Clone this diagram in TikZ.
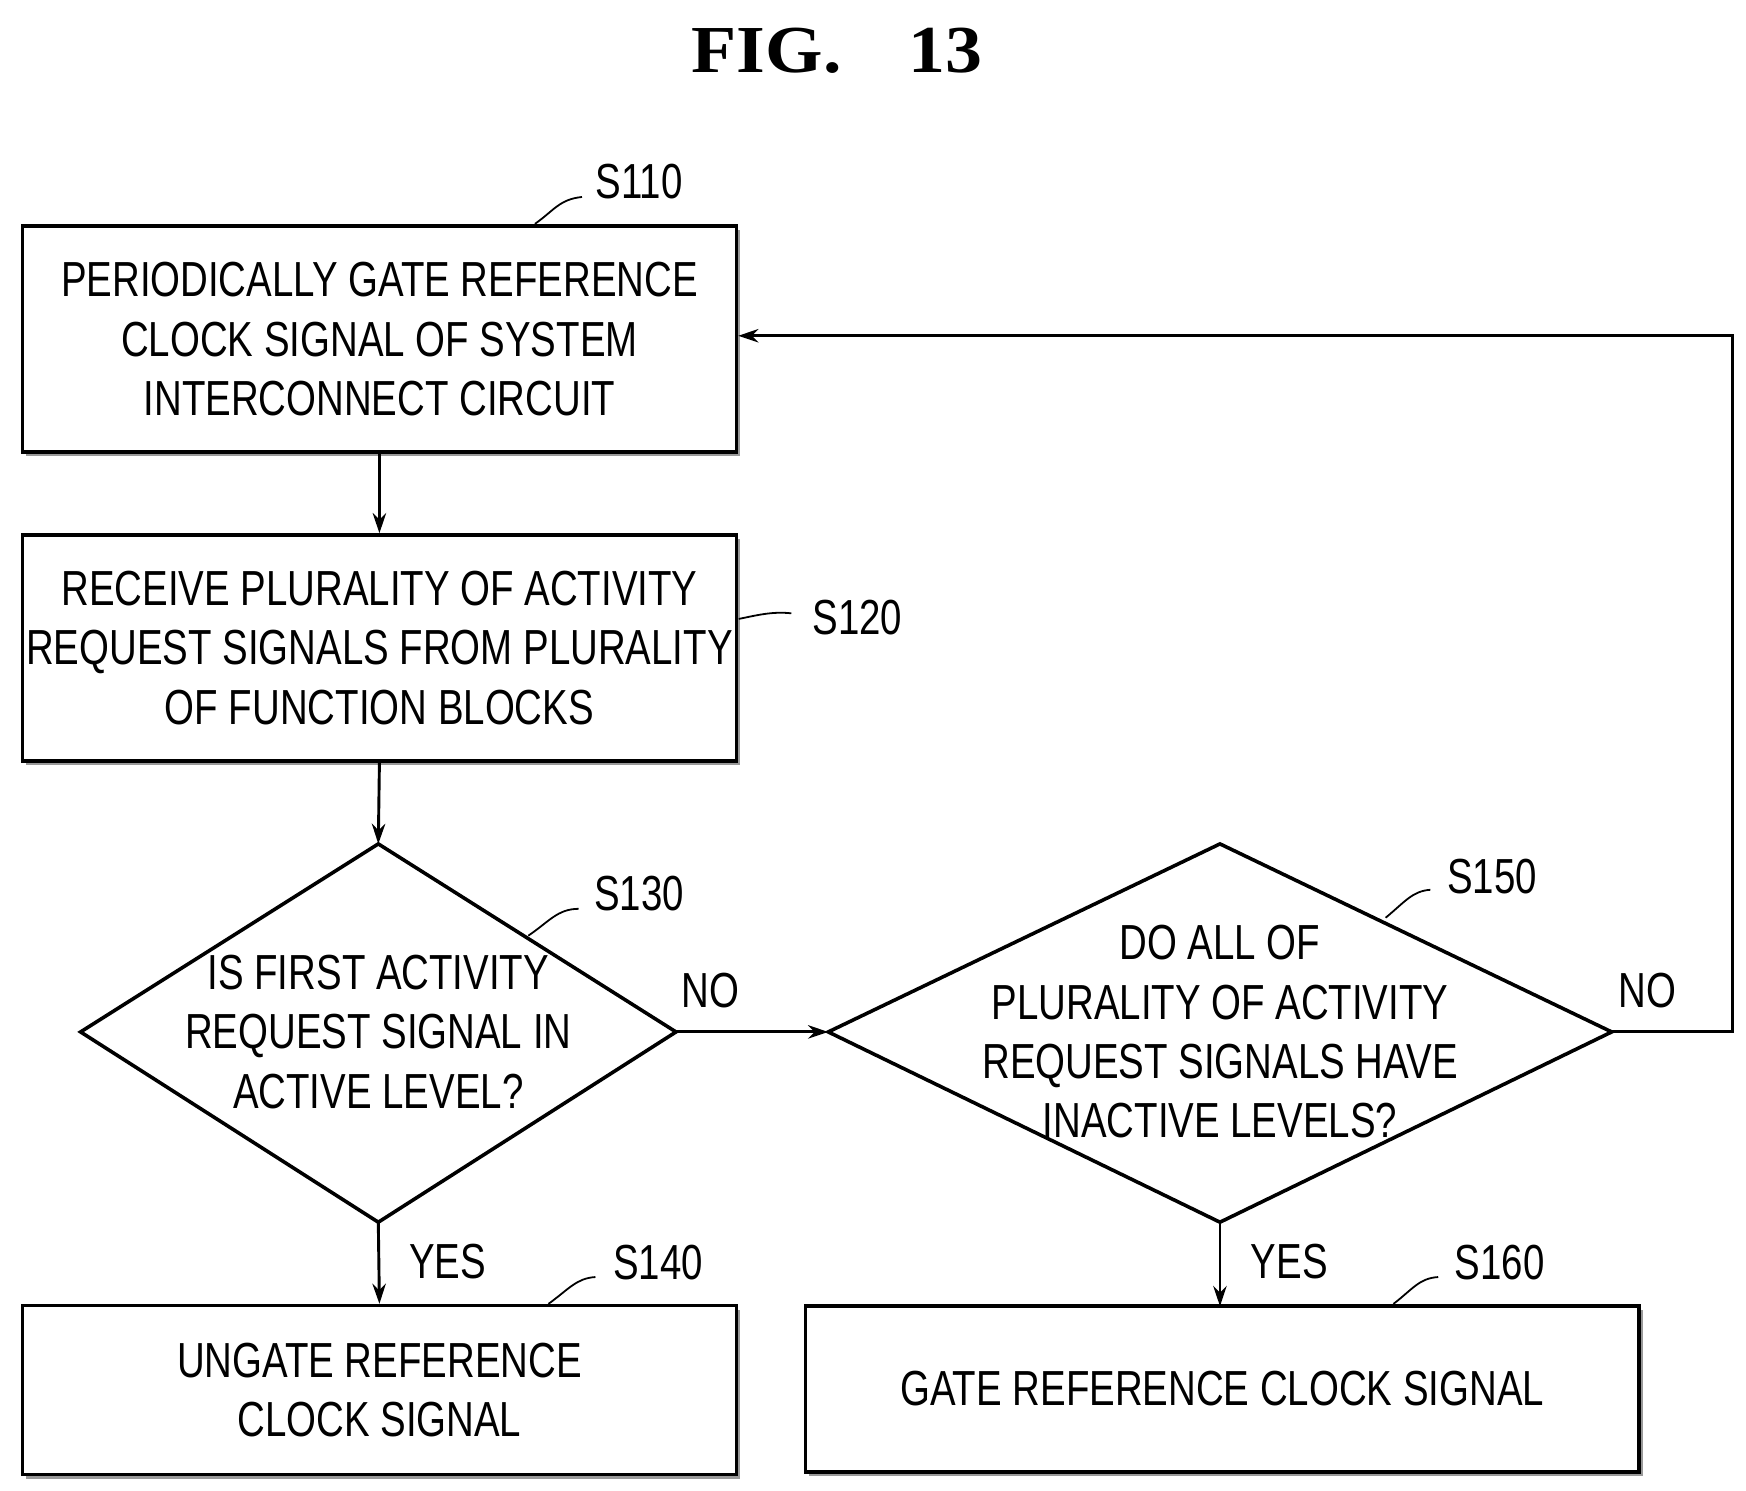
\documentclass[tikz,border=0pt]{standalone}
\usepackage{fontspec}
\setmainfont{Liberation Sans}[FakeStretch=0.78]
\newfontfamily\titlefont{Liberation Serif}[FakeStretch=1.1]
\usetikzlibrary{shapes.geometric,shadows,arrows.meta}
\begin{document}
\begin{tikzpicture}[x=0.5pt,y=-0.5pt,
  box/.style={draw,line width=1.6pt,fill=white,drop shadow={shadow xshift=1.8pt,shadow yshift=-1.8pt,fill=gray!80,opacity=1},align=center,font=\fontsize{22}{26.5}\selectfont,inner sep=0pt},
  txt/.style={align=center,font=\fontsize{22}{26.5}\selectfont},
  lbl/.style={font=\fontsize{22}{26}\selectfont},
  arr/.style={line width=1.3pt,-{Stealth[length=9pt,width=6pt]}},
  lead/.style={line width=0.8pt}]
\useasboundingbox (0,0) rectangle (1560,1332);
\node[font=\titlefont\bfseries\fontsize{30}{34}\selectfont] (title) at (748,45) {FIG.\quad 13};
% boxes
\node[box,minimum width=319pt,minimum height=101pt] (b1) at (339,303) {PERIODICALLY GATE REFERENCE\\CLOCK SIGNAL OF SYSTEM\\INTERCONNECT CIRCUIT};
\node[box,minimum width=319pt,minimum height=101pt] (b2) at (339,579) {RECEIVE PLURALITY OF ACTIVITY\\REQUEST SIGNALS FROM PLURALITY\\OF FUNCTION BLOCKS};
\node[box,minimum width=319pt,minimum height=75.5pt] (b4) at (339,1242) {UNGATE REFERENCE\\CLOCK SIGNAL};
\node[box,minimum width=372.5pt,minimum height=74pt] (b6) at (1092,1241) {GATE REFERENCE CLOCK SIGNAL};
% diamonds
\coordinate (d1t) at (338,754); \coordinate (d1b) at (338,1092);
\coordinate (d1l) at (72,922); \coordinate (d1r) at (604,922);
\draw[line width=1.6pt] (d1t) -- (d1r) -- (d1b) -- (d1l) -- cycle;
\node[txt] (d1) at (338,922) {IS FIRST ACTIVITY\\REQUEST SIGNAL IN\\ACTIVE LEVEL?};
\coordinate (d2t) at (1090,754); \coordinate (d2b) at (1090,1092);
\coordinate (d2l) at (740,922); \coordinate (d2r) at (1440,922);
\draw[line width=1.6pt] (d2t) -- (d2r) -- (d2b) -- (d2l) -- cycle;
\node[txt] (d2) at (1090,922) {DO ALL OF\\PLURALITY OF ACTIVITY\\REQUEST SIGNALS HAVE\\INACTIVE LEVELS?};
% arrows
\draw[arr] (b1.south) -- (b2.north);
\draw[arr] (b2.south) -- (d1t);
\draw[arr] (d1b) -- (b4.north);
\draw[arr] (d2b) -- (1090,1167);
\draw[arr] (d1r) -- (d2l);
\coordinate (c1) at (1548,922); \coordinate (c2) at (1548,300);
\draw[arr] (d2r) -- (c1) -- (c2) -- (b1.east |- c2);
\node[lbl] (yes1) at (400,1127) {YES};
\node[lbl] (yes2) at (1152,1127) {YES};
\node[lbl] (no1) at (635,885) {NO};
\node[lbl] (no2) at (1472,885) {NO};
% step labels
\node[lbl] (s110) at (571,162) {S110};
\draw[lead] (478,200) .. controls (495,188) and (500,178) .. (520,176);
\node[lbl] (s120) at (766,552) {S120};
\draw[lead] (660,553) .. controls (675,550) and (690,546) .. (707,548);
\node[lbl] (s130) at (571,798) {S130};
\draw[lead] (472,836) .. controls (490,824) and (498,812) .. (517,812);
\node[lbl] (s150) at (1333,783) {S150};
\draw[lead] (1238,820) .. controls (1255,806) and (1262,796) .. (1278,795);
\node[lbl] (s140) at (588,1128) {S140};
\draw[lead] (490,1165) .. controls (508,1152) and (515,1142) .. (532,1141);
\node[lbl] (s160) at (1340,1128) {S160};
\draw[lead] (1245,1165) .. controls (1262,1152) and (1268,1142) .. (1285,1141);
\end{tikzpicture}
\end{document}
